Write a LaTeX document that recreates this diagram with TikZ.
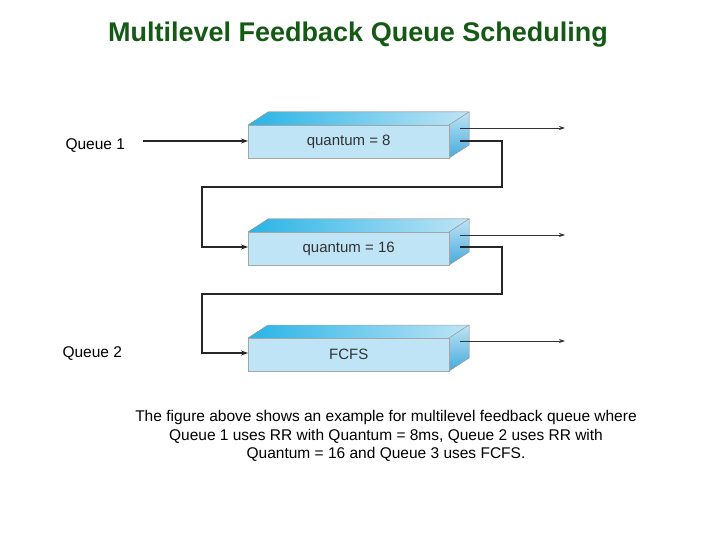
\documentclass[tikz,border=0pt]{standalone}
\usepackage{fontspec}
\setmainfont{Liberation Sans}
\usetikzlibrary{arrows.meta}
\definecolor{ttl}{RGB}{20,90,20}
\definecolor{front}{RGB}{190,228,246}
\definecolor{topc}{RGB}{40,180,230}
\definecolor{sidec}{RGB}{70,170,220}
\tikzset{
  line/.style={line width=1.6pt,draw=black!85},
  thin/.style={line width=0.8pt,draw=black!80,-{Stealth[length=6pt,width=4pt]}},
  lbl/.style={font=\fontsize{15.5}{18.5}\selectfont}
}
\newcommand{\qbox}[3]{% name, top y, text
  \fill[left color=topc, right color=front] (248,#2) -- (268,#2-13) -- (469,#2-13) -- (449,#2) -- cycle;
  \fill[top color=front, bottom color=sidec] (449,#2) -- (469,#2-13) -- (469,#2+20) -- (449,#2+33) -- cycle;
  \node[draw=gray!70,fill=front,minimum width=201pt,minimum height=33pt,inner sep=0,anchor=north west,
        font=\fontsize{15}{17}\selectfont,text=black!80] (#1) at (248,#2) {#3};
  \draw[gray!70,line width=0.5pt] (248,#2) -- (268,#2-13) -- (469,#2-13) -- (449,#2) (469,#2-13) -- (469,#2+20) -- (449,#2+33);
}
\begin{document}
\begin{tikzpicture}[x=1pt,y=-1pt]
\useasboundingbox (0,0) rectangle (720,540);
\node[font=\bfseries\fontsize{27}{31}\selectfont,text=ttl] (title) at (358,35) {Multilevel Feedback Queue Scheduling};
\qbox{q1}{125}{quantum = 8}
\qbox{q2}{232}{quantum = 16}
\qbox{q3}{338}{FCFS}
\node[lbl,anchor=west] (l1) at (62,146) {Queue 1};
\node[lbl,anchor=west] (l2) at (59,354) {Queue 2};
\coordinate (s1) at (143,141);
\draw[line,-{Stealth[length=7pt,width=5pt]}] (s1) -- (q1.west |- s1);
\coordinate (e1) at (565,128);
\coordinate (e2) at (565,235);
\coordinate (e3) at (565,341);
\draw[thin] (460,128) -- (e1);
\draw[thin] (460,235) -- (e2);
\draw[thin] (460,341) -- (e3);
\draw[line,-{Stealth[length=7pt,width=5pt]}] (460,141) -- (502,141) -- (502,187) -- (202,187) -- (202,247) -- (q2.west |- 0,247);
\draw[line,-{Stealth[length=7pt,width=5pt]}] (460,247) -- (502,247) -- (502,294) -- (202,294) -- (202,353) -- (q3.west |- 0,353);
\node[lbl,align=center] (cap) at (386,436) {The figure above shows an example for multilevel feedback queue where\\Queue 1 uses RR with Quantum = 8ms, Queue 2 uses RR with\\Quantum = 16 and Queue 3 uses FCFS.};
\end{tikzpicture}
\end{document}
